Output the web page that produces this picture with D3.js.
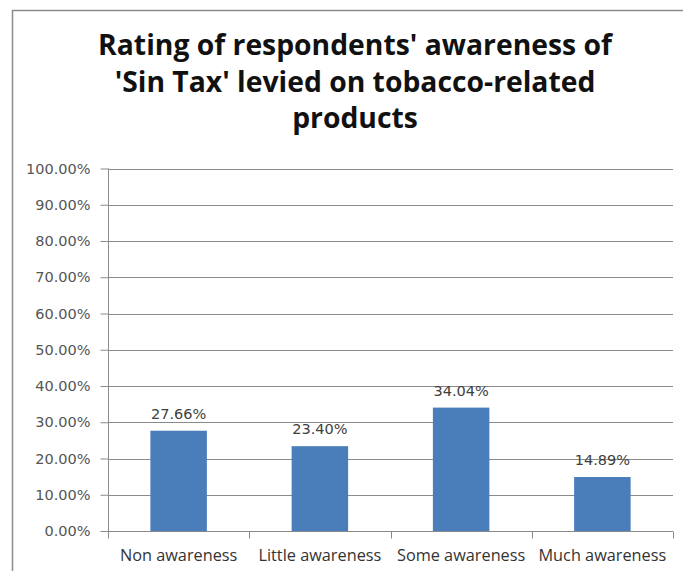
<!DOCTYPE html>
<html><head><meta charset="utf-8">
<script src="https://cdn.jsdelivr.net/npm/d3@7"></script>
<style>body{margin:0;background:#fff}</style>
</head><body>
<svg id="c" width="683" height="571"></svg>
<script>
const categories = ["Non awareness", "Little awareness", "Some awareness", "Much awareness"];
const values = [27.66, 23.40, 34.04, 14.89];
const yTicks = [0, 10, 20, 30, 40, 50, 60, 70, 80, 90, 100];
const titleLines = ["Rating of respondents' awareness of", "'Sin Tax' levied on tobacco-related", "products"];

(function () {
const svg = d3.select("#c");
svg.append("rect").attr("x", 12.5).attr("y", 10.5).attr("width", 690).attr("height", 600)
  .attr("fill", "#fff").attr("stroke", "#8c8c8c").attr("stroke-width", 1.5);

const pLeft = 108, pRight = 673, pTop = 168.5, pBottom = 531;
const x = d3.scaleBand().domain(categories).range([pLeft, pRight]).paddingInner(0.6).paddingOuter(0.3);
const xb = d3.scaleBand().domain(categories).range([pLeft, pRight]);
const y = d3.scaleLinear().domain([0, 100]).range([pBottom, pTop]);

// gridlines
svg.append("g").selectAll("line").data(yTicks).join("line")
  .attr("x1", pLeft).attr("x2", pRight).attr("y1", d => Math.round(y(d)) + 0.5).attr("y2", d => Math.round(y(d)) + 0.5)
  .attr("stroke", "#8a8a8a").attr("stroke-width", 1);

// y axis
const yAxis = d3.axisLeft(y).tickValues(yTicks).tickSize(8).tickPadding(10).tickFormat(d => d.toFixed(2) + "%");
const gy = svg.append("g").attr("transform", `translate(${pLeft + 0.5},0)`).call(yAxis);
gy.select(".domain").attr("stroke", "#8a8a8a").attr("d", `M0,${pTop}V${pBottom}`);
gy.selectAll(".tick line").attr("stroke", "#8a8a8a");
gy.selectAll(".tick text").attr("fill", "#555").attr("font-family", "DejaVu Sans").attr("font-size", 14.5);

// x axis
const gx = svg.append("g").attr("transform", `translate(0,${Math.round(pBottom) + 0.5})`);
gx.append("line").attr("x1", pLeft).attr("x2", pRight).attr("stroke", "#8a8a8a");
gx.selectAll(".tk").data(categories.map(c => xb(c)).concat([pRight])).join("line")
  .attr("x1", d => Math.round(d) + 0.5).attr("x2", d => Math.round(d) + 0.5).attr("y1", 0).attr("y2", 7).attr("stroke", "#8a8a8a");
gx.selectAll("text").data(categories).join("text")
  .attr("x", d => xb(d) + xb.bandwidth() / 2).attr("y", 29)
  .attr("text-anchor", "middle").attr("fill", "#333").attr("font-family", "Open Sans").attr("font-size", 16.3)
  .text(d => d);

// bars
svg.append("g").selectAll("rect").data(values).join("rect")
  .attr("x", (d, i) => x(categories[i])).attr("width", x.bandwidth())
  .attr("y", d => y(d)).attr("height", d => pBottom - y(d))
  .attr("fill", "#4a7ebb");

// labels
svg.append("g").selectAll("text").data(values).join("text")
  .attr("x", (d, i) => x(categories[i]) + x.bandwidth() / 2).attr("y", d => y(d) - 12)
  .attr("text-anchor", "middle").attr("fill", "#404040").attr("font-family", "DejaVu Sans").attr("font-size", 14.5)
  .text(d => d.toFixed(2) + "%");

// title
svg.append("g").selectAll("text").data(titleLines).join("text")
  .attr("x", 355).attr("y", (d, i) => 55 + i * 36.5)
  .attr("text-anchor", "middle").attr("font-family", "Open Sans").attr("font-weight", "bold").attr("font-size", 28.3)
  .attr("fill", "#111").text(d => d);
})();
</script>
</body></html>
